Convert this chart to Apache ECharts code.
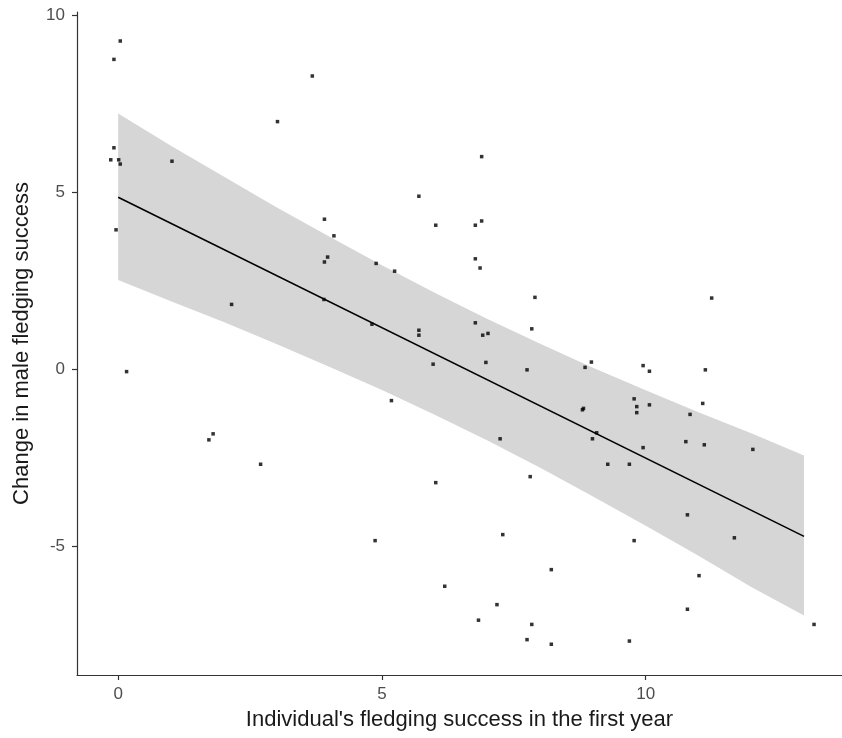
<!DOCTYPE html>
<html>
<head>
<meta charset="utf-8">
<script src="https://cdn.jsdelivr.net/npm/echarts@6/dist/echarts.min.js"></script>
<style>html,body{margin:0;padding:0;background:#fff}#c{width:842px;height:738px}</style>
</head>
<body>
<div id="c"></div>
<script>
// Scatter points: individual's fledging success in first year (x), change in male fledging success (y)
const pointX = [0.04,-0.08,3.68,3.02,-0.08,-0.14,0.01,0.04,1.02,-0.04,3.91,4.09,
  6.89,5.70,6.02,6.77,6.89,
  3.97,3.91,2.15,3.90,0.16,1.80,1.72,2.70,
  4.89,5.24,6.77,6.86,7.90,4.81,5.70,5.70,6.77,6.91,7.01,7.84,5.97,6.97,7.75,8.97,8.85,5.18,8.82,8.80,7.24,9.07,8.99,9.28,7.81,6.02,
  4.87,7.29,8.21,6.19,7.18,6.83,7.84,7.75,8.21,
  11.25,9.95,10.07,11.13,9.78,9.83,9.83,10.07,11.08,10.84,10.76,11.11,12.03,9.95,9.69,
  10.79,9.78,11.68,11.01,10.79,9.69,13.19];
const pointY = [9.28,8.76,8.29,7.00,6.26,5.92,5.92,5.80,5.88,3.94,4.24,3.77,
  6.01,4.89,4.07,4.07,4.19,
  3.17,3.03,1.83,1.97,-0.07,-1.83,-2.00,-2.69,
  2.99,2.77,3.12,2.86,2.03,1.27,1.10,0.96,1.31,0.96,1.01,1.14,0.14,0.19,-0.02,0.20,0.05,-0.89,-1.11,-1.15,-1.97,-1.80,-1.97,-2.69,-3.04,-3.21,
  -4.85,-4.68,-5.67,-6.14,-6.66,-7.10,-7.22,-7.65,-7.78,
  2.01,0.10,-0.06,-0.02,-0.84,-1.06,-1.23,-1.01,-0.97,-1.28,-2.05,-2.14,-2.27,-2.22,-2.69,
  -4.12,-4.85,-4.77,-5.84,-6.79,-7.69,-7.22];

// Fitted line endpoints
const fitX = [0, 13];
const fitY = [4.86, -4.73];

// Confidence band
const bandX     = [0, 1, 2, 3, 4, 5, 6, 7, 8, 9, 10, 11, 12, 13];
const bandUpper = [7.23, 6.32, 5.45, 4.58, 3.75, 2.94, 2.16, 1.42, 0.72, 0.04, -0.60, -1.22, -1.81, -2.44];
const bandLower = [2.52, 1.92, 1.33, 0.71, 0.07, -0.59, -1.29, -2.02, -2.79, -3.60, -4.43, -5.28, -6.16, -6.97];

// Tick labels
const xTicks = [0, 5, 10];
const yTicks = [-5, 0, 5, 10];

const xTitle = "Individual's fledging success in the first year";
const yTitle = "Change in male fledging success";

const chart = echarts.init(document.getElementById('c'), null, {renderer: 'canvas'});
const scatterData = pointX.map((x, i) => [x, pointY[i]]);
const lineData = fitX.map((x, i) => [x, fitY[i]]);

const FONT = 'Liberation Sans, Arial, sans-serif';
const axisCommon = {
  axisLine: {show: true, onZero: false, lineStyle: {color: '#333333', width: 1.2}},
  axisTick: {show: true, length: 5, lineStyle: {color: '#333333', width: 1.2}},
  splitLine: {show: false},
  axisLabel: {color: '#4d4d4d', fontSize: 17, fontFamily: FONT},
  nameTextStyle: {color: '#1a1a1a', fontSize: 22, fontFamily: FONT}
};

chart.setOption({
  animation: false,
  backgroundColor: '#ffffff',
  grid: {left: 77, top: 12, right: 0, bottom: 63, containLabel: false},
  xAxis: Object.assign({}, axisCommon, {
    type: 'value', min: -0.78, max: 13.72,
    name: xTitle, nameLocation: 'middle', nameGap: 34,
    axisTick: Object.assign({}, axisCommon.axisTick, {customValues: xTicks}),
    axisLabel: Object.assign({}, axisCommon.axisLabel, {customValues: xTicks, margin: 11})
  }),
  yAxis: Object.assign({}, axisCommon, {
    type: 'value', min: -8.65, max: 10.1,
    name: yTitle, nameLocation: 'middle', nameGap: 44,
    axisTick: Object.assign({}, axisCommon.axisTick, {customValues: yTicks}),
    axisLabel: Object.assign({}, axisCommon.axisLabel, {customValues: yTicks, margin: 12})
  }),
  series: [
    {
      type: 'custom',
      silent: true,
      z: 1,
      data: [[0, 0]],
      renderItem: function (params, api) {
        const pts = [];
        for (let i = 0; i < bandX.length; i++) pts.push(api.coord([bandX[i], bandUpper[i]]));
        for (let i = bandX.length - 1; i >= 0; i--) pts.push(api.coord([bandX[i], bandLower[i]]));
        return {type: 'polygon', shape: {points: pts}, style: {fill: '#d6d6d6', stroke: null}};
      }
    },
    {
      type: 'line',
      data: lineData,
      z: 3,
      symbol: 'none',
      lineStyle: {color: '#000000', width: 1.6},
      silent: true
    },
    {
      type: 'scatter',
      data: scatterData,
      z: 4,
      symbol: 'rect',
      symbolSize: 3.5,
      itemStyle: {color: '#000000'},
      silent: true
    }
  ]
});
</script>
</body>
</html>
